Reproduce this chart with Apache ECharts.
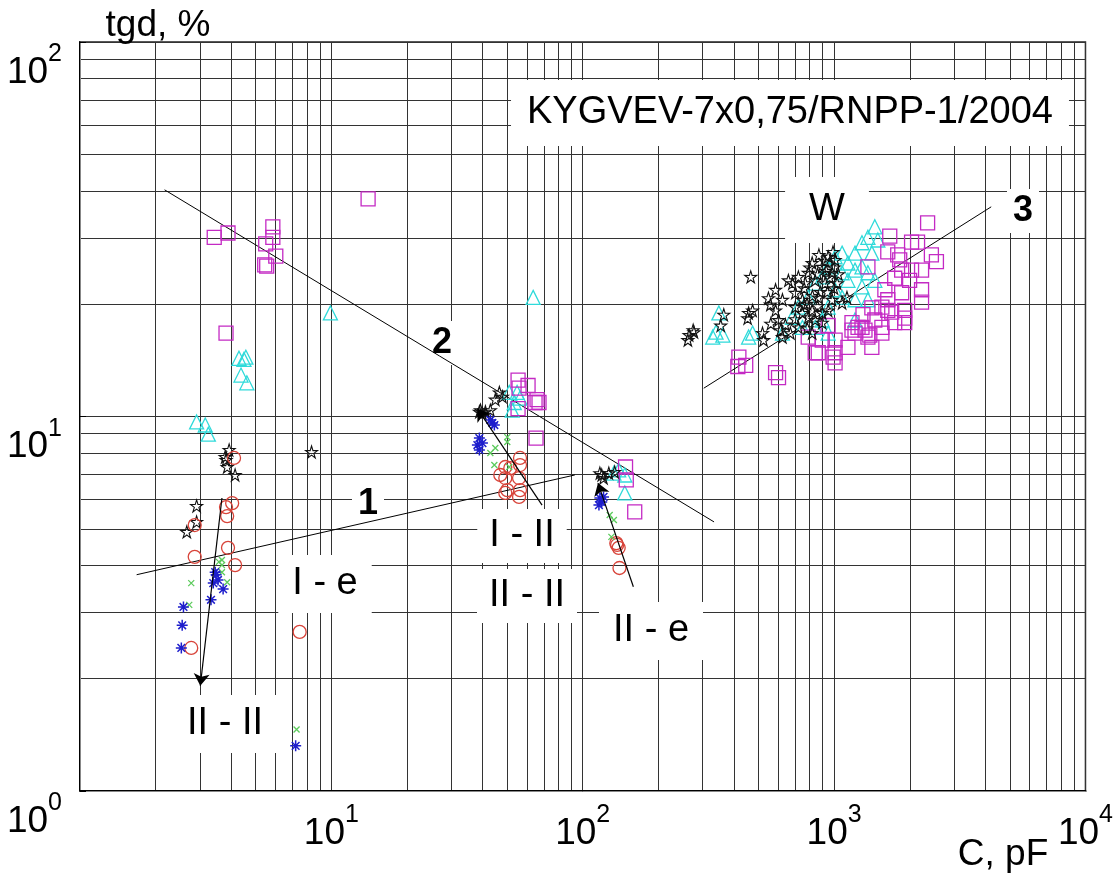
<!DOCTYPE html>
<html><head><meta charset="utf-8">
<script src="https://cdn.jsdelivr.net/npm/echarts@6/dist/echarts.min.js"></script>
<style>html,body{margin:0;padding:0;background:#fff}#c{width:1116px;height:874px}</style>
</head><body><div id="c"></div>
<script>
// ---- data (C in pF, tgd in %) ----
const squares = [[3.42,30.1],[3.88,30.9],[5.85,32.1],[5.85,30.1],[5.48,28.9],[6.01,26.8],[5.53,25.2],[5.43,25.4],[14.0,38.1],[3.81,16.7],
[55.3,12.5],[55.8,11.9],[60.6,12.1],[65.8,11.1],[64.6,10.9],[55.3,10.5],[67.0,10.9],[65.2,8.76],
[148,7.33],[149,6.77],[161,5.56],
[2355,32.9],[1665,30.3],[2033,29.2],[2148,29.2],[1635,27.5],[1791,27.0],[1824,26.2],[2438,27.0],[2553,25.9],[2033,24.6],[2228,24.6],[1742,23.4],[1997,23.1],[1592,21.8],[1857,21.4],[2228,21.8],[1635,20.5],[2228,20.2],[1413,19.5],[1635,19.2],[1909,18.3],[1742,17.8],[1452,18.1],[1291,17.3],[1549,17.3],[1363,16.3],[1211,16.7],[1135,15.3],[1413,15.3],[1009,16.0],[1009,14.8],[1009,13.9],[841,14.8],[897,16.0],[789,16.3],[991,14.4],[418,14.4],[445,13.7],[414,13.6],[585,13.1],[601,12.7],[947,17.5],[1178,17.8],[1303,18.7],[1363,25.1],[1857,24.6],[1387,16.5],[1245,17.3],[1178,17.0],[1695,19.0],[1909,19.2],[1549,19.6],[1909,17.8],[865,14.8],[1327,17.0],[1549,16.7]];
const triangles = [[2.91,9.67],[3.15,9.49],[3.24,8.97],[4.57,14.4],[4.29,14.3],[4.49,14.2],[4.37,12.9],[4.61,12.3],[9.91,18.9],[63.5,20.8],
[51.0,11.6],[54.8,11.6],[56.3,11.2],[53.4,10.9],[52.4,10.4],
[133,7.06],[139,7.20],[147,6.98],[147,6.25],
[348,18.9],[339,16.8],[329,16.3],[361,16.5],[474,16.7],[457,16.3],[1452,32.1],[1363,30.1],[1291,29.1],[1211,27.3],[1135,25.7],[1076,24.2],[1211,24.6],[1291,25.1],[1413,27.3],[1493,29.6],[1076,27.3],[1135,23.1],[1291,22.2],[1211,20.5],[1076,20.8],[1009,21.8],[947,25.1],[897,23.6],[841,22.7],[789,20.8],[721,19.6],[682,18.4],[748,17.3],[841,17.3],[897,18.1],[947,19.6],[1363,20.5],[1452,23.1],[1363,24.2],[1009,26.7],[623,16.7],[947,16.7],[1211,18.1]];
const stars = [[3.92,8.14],[3.81,7.66],[3.85,7.33],[3.78,7.80],[4.14,6.98],[2.91,5.77],[2.91,5.23],[2.66,4.92],[8.34,8.04],
[46.6,11.6],[47.9,11.3],[44.9,11.1],[39.2,10.4],[41.0,10.3],[42.9,10.4],[39.9,10.2],[38.8,10.3],
[117,7.06],[121,6.85],[119,6.98],[127,7.06],[134,7.11],
[265,16.5],[275,17.0],[262,16.0],[277,16.8],[466,23.6],[364,18.7],[354,17.5],[457,18.9],[453,18.3],[474,19.2],[519,16.7],[524,16.0],[558,19.9],[548,20.7],[585,21.8],[601,18.1],[612,17.0],[623,16.3],[670,16.7],[682,22.7],[701,21.4],[721,23.6],[748,20.5],[768,22.7],[789,24.2],[818,25.7],[841,23.1],[865,20.8],[897,25.1],[921,22.7],[947,26.7],[982,24.2],[1009,26.2],[1028,22.7],[982,20.5],[947,19.2],[897,18.9],[841,18.1],[818,19.2],[789,18.4],[748,18.9],[721,17.3],[782,17.2],[897,17.8],[1076,20.1],[1125,20.8],[818,16.7],[701,19.6],[623,20.5],[585,19.2],[658,23.1],
[760,22.0],[800,25.0],[860,24.0],[930,24.5],[960,23.5],[870,27.0],[990,27.5],[1000,25.0],[940,21.5],[880,21.5],[820,21.0],[760,19.9],[700,18.2],[640,17.6],[560,17.7],[860,19.7],[1000,22.0],[1040,24.0],[920,26.0],[780,20.0]];
const circles = [[4.10,7.75],[4.03,5.87],[3.81,5.73],[3.85,5.42],[3.88,4.46],[2.86,4.22],[4.14,4.01],[2.86,5.13],[2.77,2.41],[7.48,2.66],
[47.0,6.98],[49.2,7.33],[51.5,7.28],[56.3,7.75],[56.3,7.42],[55.8,6.85],[49.2,6.85],[50.1,6.36],[56.3,6.36],[55.8,6.10],[49.2,6.25],
[136,4.59],[139,4.46],[137,4.54],[140,3.94]];
const crosses = [[3.67,4.14],[3.67,4.01],[2.77,3.59],[3.85,3.61],[2.72,3.14],[3.67,3.84],[3.57,4.09],[7.27,1.46],
[50.1,8.81],[50.1,8.55],[42.9,7.99],[44.9,8.24],[44.5,7.42],[51.0,7.33],
[128,5.46],[133,5.29],[130,4.77]];
const asterisks = [[3.45,3.84],[3.48,3.78],[3.39,3.59],[3.54,3.66],[3.71,3.46],[3.32,3.24],[2.58,3.10],[2.55,2.77],[2.53,2.41],[7.21,1.32],
[43.7,9.61],[44.5,9.49],[38.8,8.76],[38.1,8.39],[39.9,8.49],[38.8,8.14],[42.9,9.79],
[117,6.06],[119,5.91],[116,5.80],[121,6.10]];
const line1 = [[1.68,3.78],[93.0,6.98]];
const line2 = [[2.17,40.3],[333,5.23]];
const line3 = [[303,11.9],[4217,36.3]];
const arrows = [[[3.67,6.06],[3.01,1.91]], [[68.9,5.80],[38.1,10.5]], [[159,3.51],[115,6.64]]];
// grid lines
const xMinorGrid = [2,3,4,5,6,7,8,9,20,30,40,50,60,70,80,90,200,300,400,500,600,700,800,900,2000,3000,4000,5000,6000,7000,8000,9000];
const yMinorGrid = [2,3,4,5,6,7,8,9,20,30,40,50,60,70,80,90];

const FONT = '"Liberation Sans", Arial, sans-serif';
const STAR = 'path://M10,0L12.23,6.93L19.51,6.91L13.61,11.17L15.88,18.09L10,13.8L4.12,18.09L6.39,11.17L0.49,6.91L7.77,6.93Z';
const XMARK = 'path://M0,0L10,10M10,0L0,10';
const AST = 'path://M5,0L5,10M0,5L10,5M1.5,1.5L8.5,8.5M8.5,1.5L1.5,8.5';

function sup(v){ const e = Math.round(Math.log10(v)); return '{b|10}{s|' + e + '}'; }
const richLab = {
  b:{fontSize:37, lineHeight:49, verticalAlign:'bottom', fontFamily:FONT, color:'#000'},
  s:{fontSize:25, verticalAlign:'top', fontFamily:FONT, color:'#000'}
};

function scatter(name, data, symbol, size, color, bw){
  return {name, type:'scatter', data, symbol, symbolSize:size, z:3,
    itemStyle:{color:'rgba(0,0,0,0)', borderColor:color, borderWidth:bw, opacity:1},
    emphasis:{disabled:true}, silent:true, animation:false};
}
function fit(name, data){
  return {name, type:'line', data, symbol:'none', z:2, silent:true, animation:false,
    lineStyle:{color:'#000', width:1}};
}

const gridStyle = {color:'#333', width:1};
function textEl(text, x, y, size, bold, pad){
  return {type:'text', x, y, z:1,
    style:{text, font:(bold?'bold ':'') + size + 'px ' + FONT, fill:'#000',
      align:'center', verticalAlign:'middle', textAlign:'center', textVerticalAlign:'middle',
      backgroundColor:'#fff', padding:pad}};
}

const chart = echarts.init(document.getElementById('c'));
chart.setOption({
  animation:false,
  backgroundColor:'#fff',
  grid:{left:80, right:24, top:42, bottom:83, show:true, borderColor:'#222', borderWidth:1.5},
  xAxis:[{type:'log', logBase:10, min:1, max:10000,
    axisLine:{show:true, onZero:false, lineStyle:{color:'#000', width:2}},
    axisTick:{show:false},
    splitLine:{show:true, lineStyle:gridStyle},
    axisLabel:{showMinLabel:false, margin:12, formatter:sup, rich:richLab}
  },{type:'value', min:0, max:1, position:'bottom', offset:3,
    axisLine:{show:true, lineStyle:{color:'#888', width:1}}, axisTick:{show:false}, axisLabel:{show:false}, splitLine:{show:false}}],
  yAxis:[{type:'log', logBase:10, min:1, max:100,
    axisLine:{show:true, onZero:false, lineStyle:{color:'#000', width:2}},
    axisTick:{show:true, inside:true, length:6, lineStyle:{color:'#000'}},
    splitLine:{show:true, lineStyle:gridStyle},
    axisLabel:{margin:18, verticalAlign:'top', formatter:sup, rich:richLab}
  },{type:'value', min:0, max:1, position:'left', offset:5,
    axisLine:{show:true, lineStyle:{color:'#888', width:1}}, axisTick:{show:false}, axisLabel:{show:false}, splitLine:{show:false}}],
  graphic:{elements:[
    {type:'text', x:158, y:26, z:1, style:{text:'tgd, %', font:'37px ' + FONT, fill:'#000', align:'center', verticalAlign:'middle', textAlign:'center', textVerticalAlign:'middle'}},
    {type:'text', x:1003, y:855, z:1, style:{text:'C, pF', font:'37px ' + FONT, fill:'#000', align:'center', verticalAlign:'middle', textAlign:'center', textVerticalAlign:'middle'}},
    textEl('KYGVEV-7x0,75/RNPP-1/2004', 790, 113, 38, false, [14,16]),
    textEl('W', 827, 210, 38, false, [14,24]),
    textEl('3', 1023, 211, 36, true, [4,6]),
    textEl('2', 442, 343, 36, true, [4,6]),
    textEl('1', 368, 504, 36, true, [4,6]),
    textEl('I - e', 325, 584, 38, false, [10,14]),
    textEl('I - II', 522, 536, 38, false, [8,12]),
    textEl('II - II', 527, 596, 38, false, [8,12]),
    textEl('II - e', 651, 631, 38, false, [10,14]),
    textEl('II - II', 225, 724, 38, false, [10,14])
  ]},
  series:[
    {name:'grid', type:'line', data:[[1,1]], symbol:'none', lineStyle:{width:0}, z:0, silent:true, animation:false,
      markLine:{z:0, silent:true, symbol:['none','none'], label:{show:false}, animation:false,
        emphasis:{disabled:true},
        lineStyle:{type:'solid', color:'#333', width:1},
        data: xMinorGrid.map(v => ({xAxis:v})).concat(yMinorGrid.map(v => ({yAxis:v})))}},
    scatter('triangles', triangles, 'triangle', 14, '#2FDADA', 1.3),
    scatter('squares', squares, 'rect', 14, '#C42AC4', 1.3),
    scatter('stars', stars, STAR, 12, '#111', 1.1),
    scatter('circles', circles, 'circle', 13, '#D8443A', 1.3),
    scatter('crosses', crosses, XMARK, 6, '#5CCB5C', 1.3),
    scatter('asterisks', asterisks, AST, 11, '#1E1ECC', 1.5),
    Object.assign(fit('line1', line1), {markLine:{silent:true, animation:false, symbol:['none','arrow'], symbolSize:12,
      label:{show:false}, emphasis:{disabled:true}, lineStyle:{type:'solid', color:'#000', width:1.2},
      data: arrows.map(a => [{coord:a[0]},{coord:a[1]}])}}),
    fit('line2', line2),
    fit('line3', line3)
  ]
});
</script></body></html>
